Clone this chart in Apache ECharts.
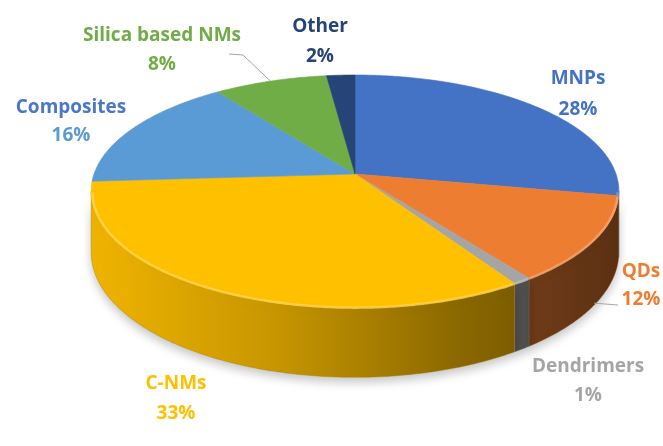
<!DOCTYPE html>
<html>
<head>
<meta charset="utf-8">
<title>Nanomaterial share</title>
<script src="https://cdn.jsdelivr.net/npm/echarts@6/dist/echarts.min.js"></script>
<style>
  html, body { margin: 0; padding: 0; background: #ffffff; }
  #chart { width: 663px; height: 446px; }
</style>
</head>
<body>
<div id="chart"></div>
<script>
// ---- data ----
const categories = ['MNPs', 'QDs', 'Dendrimers', 'C-NMs', 'Composites', 'Silica based NMs', 'Other'];
const shares = [28, 12, 1, 33, 16, 8, 2];

// ---- styling ----
const sliceColors = ['#4472C4', '#ED7D31', '#A5A5A5', '#FFC000', '#5B9BD5', '#70AD47', '#264478'];
const nameColors  = ['#4472C4', '#ED7D31', '#A5A5A5', '#FFC000', '#4A78C8', '#70AD47', '#264478'];
const valueColors = ['#4472C4', '#ED7D31', '#A5A5A5', '#FFC000', '#5B9BD5', '#70AD47', '#264478'];

// disc geometry: tilted disc with a little perspective
const DISC = { cx: 355, cy: 174, rx: 261, lift: 88, persp: -0.1466, depth: 60 };

// label block placement: [x, y of name line, y of value line]
const labelLayout = [
  [578, 79, 110],
  [641, 272, 300],
  [588, 367, 396],
  [176, 384, 414],
  [71, 108, 136],
  [162, 36, 65],
  [320, 27, 57]
];
// leader lines: label-side anchor points, slice side comes from the disc
const leaders = {
  5: { from: [[229, 54], [243, 55]], r: 1, drop: 0 },
  1: { from: [[618, 305]], r: 1, drop: 0.97 }
};

const FONT = 'bold 19px "Open Sans", Lato, sans-serif';
const total = shares.reduce((a, b) => a + b, 0);
const startAngle = [];
(function () {
  let acc = 0;
  shares.forEach((s) => { startAngle.push(acc / total * Math.PI * 2); acc += s; });
})();
function sliceRange(i) {
  return [startAngle[i], startAngle[i] + shares[i] / total * Math.PI * 2];
}

// map a point on the disc (angle clockwise from 12 o'clock, radius 0..1, drop 0..1 of thickness)
function project(theta, r, drop) {
  const u = r * Math.sin(theta);
  const v = -r * Math.cos(theta);
  const w = 1 + DISC.persp * v;
  return [DISC.cx + DISC.rx * u / w, (DISC.lift * v + DISC.cy + drop * DISC.depth) / w];
}

// visible part of the rim wall (between the silhouette points)
const visLo = Math.acos(DISC.persp);            // right silhouette
const visHi = 2 * Math.PI - visLo;              // left silhouette

function mix(hex, target, t) {
  const n = parseInt(hex.slice(1), 16);
  const c = [(n >> 16) & 255, (n >> 8) & 255, n & 255];
  const o = c.map((x) => Math.round(x + (target - x) * t));
  return 'rgb(' + o.join(',') + ')';
}
function wallFill(color) {
  const left = DISC.cx - DISC.rx - 5, right = DISC.cx + DISC.rx + 5;
  return {
    type: 'linear', x: left, y: 0, x2: right, y2: 0, global: true,
    colorStops: [
      { offset: 0, color: mix(color, 0, 0.06) },
      { offset: 0.35, color: mix(color, 0, 0.22) },
      { offset: 0.7, color: mix(color, 0, 0.46) },
      { offset: 1, color: mix(color, 0, 0.62) }
    ]
  };
}

function arcPoints(a0, a1, r, drop) {
  const pts = [];
  const n = Math.max(2, Math.ceil((a1 - a0) / 0.01));
  for (let k = 0; k <= n; k++) pts.push(project(a0 + (a1 - a0) * k / n, r, drop));
  return pts;
}

function renderWall(params, api) {
  const i = params.dataIndex;
  const [a0, a1] = sliceRange(i);
  const lo = Math.max(a0, visLo), hi = Math.min(a1, visHi);
  if (hi <= lo) return { type: 'group', children: [] };
  const top = arcPoints(lo, hi, 1, 0);
  const bottom = arcPoints(lo, hi, 1, 1).reverse();
  return {
    type: 'polygon',
    shape: { points: top.concat(bottom) },
    style: {
      fill: wallFill(sliceColors[i]),
      stroke: mix(sliceColors[i], 0, 0.35), lineWidth: 0.4,
      shadowBlur: 10, shadowColor: 'rgba(0,0,0,0.22)', shadowOffsetY: 5
    }
  };
}

function renderTop(params, api) {
  const i = params.dataIndex;
  const [a0, a1] = sliceRange(i);
  const pts = [project(0, 0, 0)].concat(arcPoints(a0, a1, 1, 0));
  const children = [{
    type: 'polygon',
    shape: { points: pts },
    style: { fill: sliceColors[i], stroke: sliceColors[i], lineWidth: 0.6 }
  }];
  // bevel highlight along the front rim
  const lo = Math.max(a0, visLo), hi = Math.min(a1, visHi);
  if (hi > lo) {
    children.push({
      type: 'polyline',
      shape: { points: arcPoints(lo, hi, 0.995, 0.02) },
      style: { stroke: mix(sliceColors[i], 255, 0.3), lineWidth: 2.5, fill: null, opacity: 0.85 }
    });
  }
  return { type: 'group', children };
}

function renderLabel(params, api) {
  const i = params.dataIndex;
  const [x, yName, yValue] = labelLayout[i];
  const children = [
    { type: 'text', x, y: yName,
      style: { text: categories[i], fill: nameColors[i], font: FONT, align: 'center', verticalAlign: 'middle' } },
    { type: 'text', x, y: yValue,
      style: { text: api.value(0) + '%', fill: valueColors[i], font: FONT, align: 'center', verticalAlign: 'middle' } }
  ];
  const ld = leaders[i];
  if (ld) {
    const [a0, a1] = sliceRange(i);
    const end = project((a0 + a1) / 2, ld.r, ld.drop);
    children.push({
      type: 'polyline',
      shape: { points: ld.from.concat([end]) },
      style: { stroke: '#A6A6A6', lineWidth: 1, fill: null }
    });
  }
  return { type: 'group', children };
}

const seriesData = shares.map((v, i) => ({ name: categories[i], value: v }));

const chart = echarts.init(document.getElementById('chart'), null, { renderer: 'canvas' });
chart.setOption({
  backgroundColor: '#ffffff',
  animation: false,
  series: [
    { type: 'custom', coordinateSystem: 'none', renderItem: renderWall, data: seriesData, z: 1 },
    { type: 'custom', coordinateSystem: 'none', renderItem: renderTop, data: seriesData, z: 2 },
    { type: 'custom', coordinateSystem: 'none', renderItem: renderLabel, data: seriesData, z: 3 }
  ]
});
</script>
</body>
</html>
